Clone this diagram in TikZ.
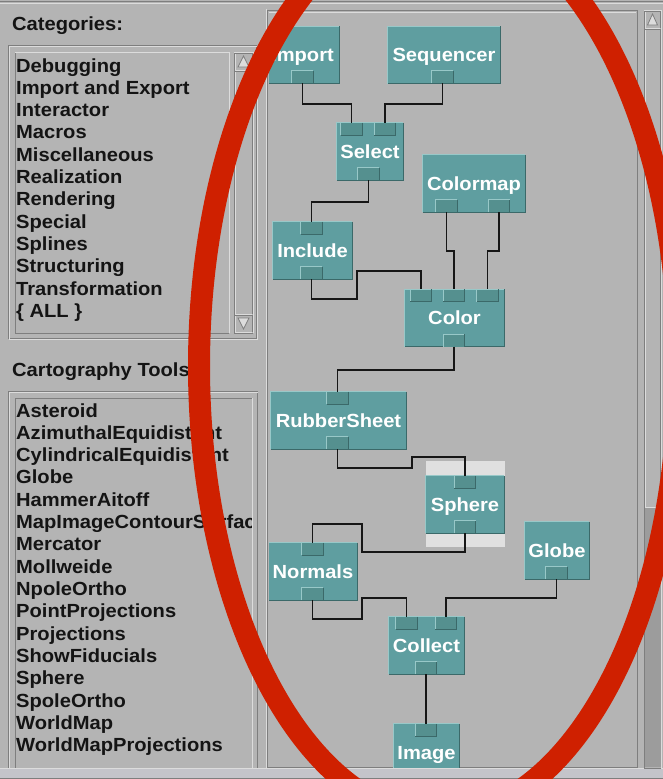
\documentclass[tikz,border=0pt]{standalone}
\usepackage{fontspec}
\newfontfamily\uifont[FakeStretch=1.06]{Liberation Sans}
\definecolor{panelbg}{HTML}{B4B4B4}
\definecolor{liteline}{HTML}{DCDCDC}
\definecolor{darkline}{HTML}{7E7E7E}
\definecolor{trough}{HTML}{9C9C9C}
\definecolor{footbg}{HTML}{C4C4CA}
\definecolor{modfill}{HTML}{5F9EA0}
\definecolor{portfill}{HTML}{55908F}
\definecolor{modlite}{HTML}{98C8C8}
\definecolor{moddark}{HTML}{3B6969}
\definecolor{wirecol}{HTML}{161616}
\definecolor{selband}{HTML}{E0E0E0}
\definecolor{ringred}{HTML}{CF2000}

\tikzset{
  uitext/.style={font=\uifont\bfseries\fontsize{19}{22}\selectfont},
  listitem/.style={uitext, text=black!92, anchor=base west, inner sep=0},
  dxmod/.style={uitext, fill=modfill, text=white, inner sep=0,
    minimum height=57, text height=13.6, text depth=0},
  dxport/.style={fill=portfill, inner sep=0, minimum width=21, minimum height=12},
  mlite/.style={draw=modlite, line width=1},
  mdark/.style={draw=moddark, line width=1.2},
  glite/.style={draw=liteline, line width=1},
  gdark/.style={draw=darkline, line width=1},
  wire/.style={draw=wirecol, line width=1.6},
}

% a module box with a bevelled edge
\newcommand\dxmodule[4]{%
  \node[dxmod, minimum width=#3] (#1) at (#2) {#4};
  \draw[mlite] (#1.south west) -- (#1.north west) -- (#1.north east);
  \draw[mdark] (#1.north east) -- (#1.south east) -- (#1.south west);}
% input tab on the top edge of a module
\newcommand\dxin[2]{%
  \node[dxport] (#1) at (#2) {};
  \draw[mlite] (#1.south west) -- (#1.north west);
  \draw[mdark] (#1.north east) -- (#1.south east) -- (#1.south west);}
% output tab on the bottom edge of a module
\newcommand\dxout[2]{%
  \node[dxport] (#1) at (#2) {};
  \draw[mlite] (#1.south west) -- (#1.north west) -- (#1.north east);
  \draw[mdark] (#1.north east) -- (#1.south east);}
% raised and sunken frames
\newcommand\raisedbox[2]{%
  \draw[glite] (#1) |- (#2);
  \draw[gdark] (#1) -| (#2);}
\newcommand\sunkenbox[2]{%
  \draw[gdark] (#1) |- (#2);
  \draw[glite] (#1) -| (#2);}

\begin{document}
\begin{tikzpicture}[x=1pt,y=-1pt]
\useasboundingbox (0,0) rectangle (663,779);
\fill[panelbg] (0,0) rectangle (663,779);

% window edges
\draw[gdark] (0,1) -- (663,1);
\draw[glite] (0,3) -- (663,3);
\fill[footbg] (0,769) rectangle (663,779);
\draw[glite] (0,768.5) -- (663,768.5);
\draw[draw=darkline] (0,778) -- (663,778);

% ---------- category list ----------
\node[listitem] (cathead) at (12,30.6) {Categories:};
\draw[gdark] (8,45) rectangle (256,338);
\draw[glite] (9,46) rectangle (257,339);
\sunkenbox{15,52}{229,333}
\sunkenbox{234,52}{253,333}
\raisedbox{235,71}{252,314}
\raisedbox{235,53}{252,70}
\raisedbox{235,315}{252,332}
\filldraw[fill=liteline, draw=darkline, line width=0.8] (243.5,56) -- (238,67) -- (249,67) -- cycle;
\filldraw[fill=liteline, draw=darkline, line width=0.8] (243.5,329) -- (238,318) -- (249,318) -- cycle;
\begin{scope}
  \clip (16,53) rectangle (228,332);
  \foreach \t [count=\i from 0] in {Debugging, Import and Export, Interactor,
      Macros, Miscellaneous, Realization, Rendering, Special, Splines,
      Structuring, Transformation, {\{ ALL \}}}
    \node[listitem] (cat\i) at (16,72+\i*22.3) {\t};
\end{scope}

% ---------- tool list ----------
\node[listitem] (toolhead) at (12,376.5) {Cartography Tools};
\draw[gdark] (8,391) -- (8,768) (8,391) -- (257,391) -- (257,768);
\draw[glite] (9,392) -- (9,768) (9,392) -- (258,392);
\draw[gdark] (15,398) -- (15,768) (15,398) -- (252,398);
\draw[glite] (252,398) -- (252,768);
\begin{scope}
  \clip (16,399) rectangle (251,767);
  \foreach \t [count=\i from 0] in {Asteroid, AzimuthalEquidistant,
      CylindricalEquidistant, Globe, HammerAitoff, MapImageContourSurface,
      Mercator, Mollweide, NpoleOrtho, PointProjections, Projections,
      ShowFiducials, Sphere, SpoleOrtho, WorldMap, WorldMapProjections}
    \node[listitem] (tool\i) at (16,417+\i*22.33) {\t};
\end{scope}

% ---------- network canvas ----------
\draw[glite] (266,9) -- (266,768);
\draw[gdark] (267.5,10.5) rectangle (637.5,767.5);
\draw[glite] (269,12) -- (636,12);
% vertical scrollbar
\fill[trough] (645,508) rectangle (661,767);
\sunkenbox{644,10}{661,768}
\raisedbox{645,29}{660,507}
\raisedbox{645,11}{660,28}
\filldraw[fill=liteline, draw=darkline, line width=0.8] (652.5,14) -- (647.5,25) -- (657.5,25) -- cycle;

\begin{scope}
  \clip (269,12) rectangle (636,767);
  % selected module backdrop
  \fill[selband] (426,461) rectangle (505,547);

  \dxmodule{imp}{302.5,55}{73}{Import}
  \dxmodule{seq}{444,55}{112}{Sequencer}
  \dxmodule{sel}{370,151.5}{66}{Select}
  \dxmodule{cmap}{474,183.5}{102}{Colormap}
  \dxmodule{inc}{312.5,250.5}{79}{Include}
  \dxmodule{col}{454.5,318}{99}{Color}
  \dxmodule{rs}{338.5,420.5}{135}{RubberSheet}
  \dxmodule{sph}{465,504.5}{78}{Sphere}
  \dxmodule{nrm}{313,571.5}{88}{Normals}
  \dxmodule{glb}{557,550.5}{64}{Globe}
  \dxmodule{clt}{426.5,645.5}{75}{Collect}
  \dxmodule{img}{426.5,752.5}{65}{Image}

  \dxout{imp-o}{302.5,77}
  \dxout{seq-o}{442.5,77}
  \dxin{sel-i1}{351.5,129}
  \dxin{sel-i2}{385,129}
  \dxout{sel-o}{368.5,174}
  \dxout{cmap-o1}{446.5,206}
  \dxout{cmap-o2}{499,206}
  \dxin{inc-i}{311.5,228}
  \dxout{inc-o}{311.5,273}
  \dxin{col-i1}{421,295.5}
  \dxin{col-i2}{454,295.5}
  \dxin{col-i3}{487.5,295.5}
  \dxout{col-o}{454,340.5}
  \dxin{rs-i}{337.5,398}
  \dxout{rs-o}{337.5,443}
  \dxin{sph-i}{465,482}
  \dxout{sph-o}{465,527}
  \dxin{nrm-i}{312.5,549}
  \dxout{nrm-o}{312.5,594}
  \dxout{glb-o}{556.5,573}
  \dxin{clt-i1}{406.5,623}
  \dxin{clt-i2}{446,623}
  \dxout{clt-o}{426,668}
  \dxin{img-i}{426,730}

  % connections
  \draw[wire] (imp-o.south) |- (sel-i1.north |- 0,104) -- (sel-i1.north);
  \draw[wire] (seq-o.south) |- (sel-i2.north |- 0,104) -- (sel-i2.north);
  \draw[wire] (sel-o.south) |- (inc-i.north |- 0,202) -- (inc-i.north);
  \draw[wire] (cmap-o1.south) |- (col-i2.north |- 0,251) -- (col-i2.north);
  \draw[wire] (cmap-o2.south) |- (col-i3.north |- 0,251) -- (col-i3.north);
  \draw[wire] (inc-o.south) |- (357,299) |- (col-i1.north |- 0,271) -- (col-i1.north);
  \draw[wire] (col-o.south) |- (rs-i.north |- 0,370) -- (rs-i.north);
  \draw[wire] (rs-o.south) |- (412,468) |- (sph-i.north |- 0,457) -- (sph-i.north);
  \draw[wire] (sph-o.south) |- (362,552) |- (nrm-i.north |- 0,524) -- (nrm-i.north);
  \draw[wire] (nrm-o.south) |- (362,619) |- (clt-i1.north |- 0,598) -- (clt-i1.north);
  \draw[wire] (glb-o.south) |- (clt-i2.north |- 0,598) -- (clt-i2.north);
  \draw[wire] (clt-o.south) -- (img-i.north);
\end{scope}

% red ring drawn over everything
\begin{scope}
  \clip (0,0) rectangle (663,779);
  \draw[ringred, line width=22] (439,366) ellipse [x radius=240pt, y radius=451pt];
\end{scope}
\end{tikzpicture}
\end{document}
